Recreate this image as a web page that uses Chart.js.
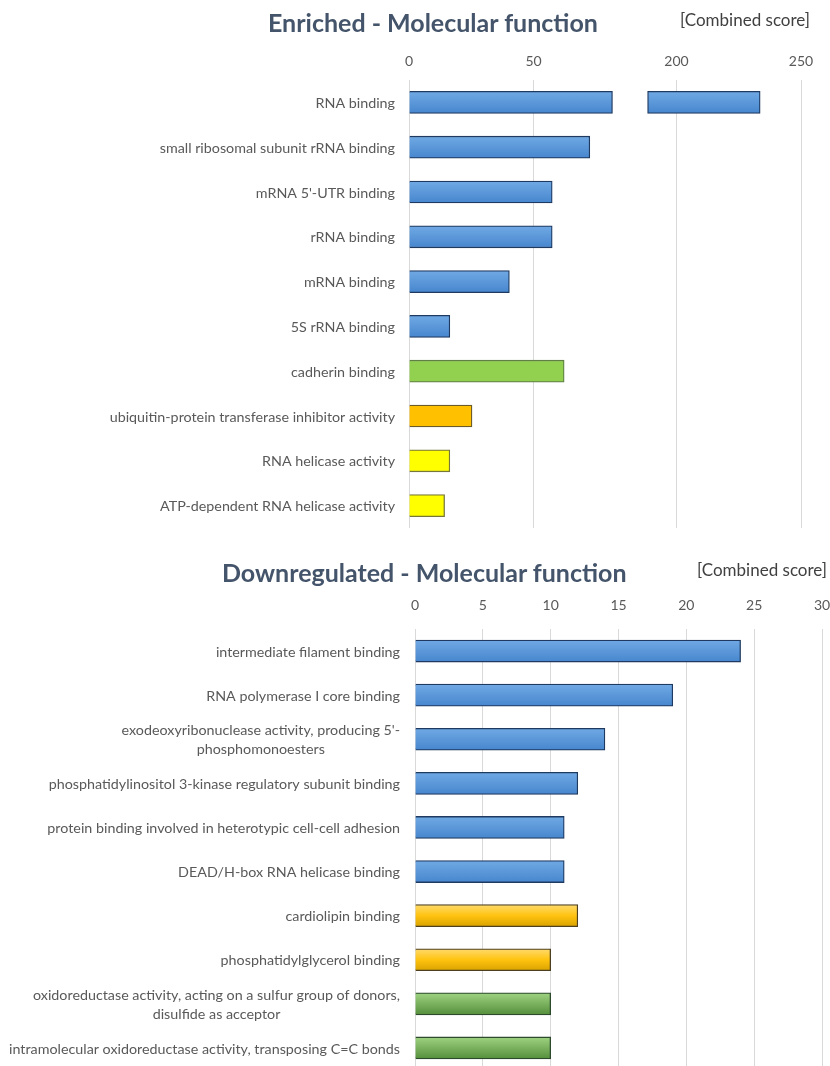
<!DOCTYPE html>
<html><head><meta charset="utf-8">
<script src="https://cdn.jsdelivr.net/npm/chart.js@4.4.1/dist/chart.umd.min.js"></script>
<style>
html,body{margin:0;padding:0;background:#fff;width:830px;height:1066px;overflow:hidden;font-family:Lato,"Open Sans",sans-serif;}
canvas{position:absolute;left:0;}
.t{position:absolute;white-space:nowrap;z-index:2;}
.title{font-weight:bold;font-size:25px;color:#44546A;line-height:28px;}
.unit{font-size:17px;color:#404040;line-height:20px;}
</style></head><body>
<canvas id="c1" width="830" height="535" style="top:0"></canvas>
<canvas id="c2" width="830" height="535" style="top:535px"></canvas>
<div class="t title" style="left:268px;top:8px">Enriched - Molecular function</div>
<div class="t unit" style="left:680px;top:10px">[Combined score]</div>
<div class="t title" style="left:222px;top:558px">Downregulated - Molecular function</div>
<div class="t unit" style="left:697px;top:560px">[Combined score]</div>
<script>
// ---------- data ----------
const enrichedLabels = ['RNA binding', 'small ribosomal subunit rRNA binding', "mRNA 5'-UTR binding", 'rRNA binding', 'mRNA binding', '5S rRNA binding', 'cadherin binding', 'ubiquitin-protein transferase inhibitor activity', 'RNA helicase activity', 'ATP-dependent RNA helicase activity'];
const enrichedValues = [233.6, 72.6, 57.5, 57.5, 40.3, 16.4, 62.3, 25.3, 16.4, 14.3];
const enrichedGroups = ['blue', 'blue', 'blue', 'blue', 'blue', 'blue', 'green', 'orange', 'yellow', 'yellow'];
const enrichedTicks = [0, 50, 200, 250];
// broken axis: bar cut at this value, resumes at this value, values past the break are shifted
const breakCut = 81.7;
const breakResume = 188.4;
const breakShift = 92.6;

const downLabels = ['intermediate filament binding', 'RNA polymerase I core binding', ["exodeoxyribonuclease activity, producing 5'-", 'phosphomonoesters'], 'phosphatidylinositol 3-kinase regulatory subunit binding', 'protein binding involved in heterotypic cell-cell adhesion', 'DEAD/H-box RNA helicase binding', 'cardiolipin binding', 'phosphatidylglycerol binding', ['oxidoreductase activity, acting on a sulfur group of donors,', 'disulfide as acceptor'], 'intramolecular oxidoreductase activity, transposing C=C bonds'];
const downValues = [24, 19, 14, 12, 11, 11, 12, 10, 10, 10];
const downGroups = ['blue', 'blue', 'blue', 'blue', 'blue', 'blue', 'orange', 'orange', 'green', 'green'];
const downTicks = [0, 5, 10, 15, 20, 25, 30];

// ---------- styles ----------
const topPalette = {
  blue:   {solid: '#5B9BD5', stops: [[0, '#70A9E4'], [1, '#4786CE']], border: '#1F3A60'},
  green:  {solid: '#92D050', border: '#5F7F45'},
  orange: {solid: '#FFC000', border: '#6B5A2A'},
  yellow: {solid: '#FFFF00', border: '#77773A'}
};
const downPalette = {
  blue:   {solid: '#5B9BD5', stops: [[0, '#70A9E4'], [1, '#4786CE']], border: '#1F3A60'},
  orange: {solid: '#FFC000', stops: [[0, '#FFDB6E'], [0.5, '#FFC30F'], [1, '#D9A200']], border: '#4D4020'},
  green:  {solid: '#70AD47', stops: [[0, '#9FD381'], [1, '#558F3C']], border: '#2C4A2C'}
};
const FONT = 'Lato, "Open Sans", sans-serif';

function toDisplay(v) { return v <= breakCut ? v : v - breakShift; }

// gradient fills applied per bar element just before drawing
const barGradients = {
  id: 'barGradients',
  beforeDatasetsDraw(chart, args, opts) {
    const ctx = chart.ctx;
    chart.data.datasets.forEach((ds, di) => {
      const meta = chart.getDatasetMeta(di);
      meta.data.forEach((el, i) => {
        const p = opts.palette[opts.groups[i]];
        if (!p || !p.stops || !el || !isFinite(el.y)) return;
        const h = el.height || 22;
        const g = ctx.createLinearGradient(0, el.y - h / 2, 0, el.y + h / 2);
        p.stops.forEach(s => g.addColorStop(s[0], s[1]));
        el.options = Object.assign({}, el.options, {backgroundColor: g});
      });
    });
  }
};

const catLabels = {
  id: 'catLabels',
  afterDraw(chart, args, opts) {
    const ctx = chart.ctx, ys = chart.scales.y;
    ctx.save();
    ctx.font = opts.font;
    ctx.fillStyle = opts.color;
    ctx.textBaseline = 'middle';
    ctx.textAlign = 'center';
    chart.data.labels.forEach((lab, i) => {
      const lines = Array.isArray(lab) ? lab : [lab];
      const w = Math.max(...lines.map(l => ctx.measureText(l).width));
      const cx = opts.right - w / 2;
      const yc = ys.getPixelForValue(i) + 1;
      lines.forEach((l, k) => ctx.fillText(l, cx, yc + (k - (lines.length - 1) / 2) * opts.lineHeight));
    });
    ctx.restore();
  }
};

function fitX(s) { s.height = 30; s.paddingLeft = 0; s.paddingRight = 0; }

// ---------- chart 1 (broken axis) ----------
const leftSeg = enrichedValues.map(v => [0, v > breakCut ? breakCut : v]);
const rightSeg = enrichedValues.map(v => v > breakCut ? [toDisplay(breakResume), toDisplay(v)] : null);
const topFill = enrichedGroups.map(g => topPalette[g].solid);
const topBorder = enrichedGroups.map(g => topPalette[g].border);

new Chart(document.getElementById('c1'), {
  type: 'bar',
  plugins: [barGradients, catLabels],
  data: {
    labels: enrichedLabels,
    datasets: [
      {data: leftSeg, backgroundColor: topFill, borderColor: topBorder, borderWidth: 1.3, barThickness: 22, grouped: false},
      {data: rightSeg, backgroundColor: topFill, borderColor: topBorder, borderWidth: 1.3, barThickness: 22, grouped: false, borderSkipped: false}
    ]
  },
  options: {
    indexAxis: 'y', responsive: false, animation: false, devicePixelRatio: 1,
    layout: {padding: {left: 0, right: 29, top: 50, bottom: 7}},
    plugins: {legend: {display: false}, tooltip: {enabled: false},
      barGradients: {palette: topPalette, groups: enrichedGroups},
      catLabels: {font: '14.3px ' + FONT, color: '#595959', right: 395, lineHeight: 19}},
    scales: {
      x: {
        position: 'top', min: 0, max: toDisplay(250),
        afterBuildTicks: s => { s.ticks = enrichedTicks.map(v => ({value: toDisplay(v)})); },
        ticks: {callback: (v, i) => String(enrichedTicks[i]), color: '#595959', font: {family: FONT, size: 14}, padding: 10, autoSkip: false, maxRotation: 0},
        grid: {color: '#D9D9D9', drawTicks: false},
        border: {display: false},
        afterFit: fitX
      },
      y: {
        ticks: {display: false}, grid: {display: false}, border: {display: false},
        afterFit: s => { s.width = 409; }
      }
    }
  }
});

// ---------- chart 2 ----------
new Chart(document.getElementById('c2'), {
  type: 'bar',
  plugins: [barGradients, catLabels],
  data: {
    labels: downLabels,
    datasets: [
      {data: downValues, backgroundColor: downGroups.map(g => downPalette[g].solid), borderColor: downGroups.map(g => downPalette[g].border), borderWidth: 1.3, barThickness: 22}
    ]
  },
  options: {
    indexAxis: 'y', responsive: false, animation: false, devicePixelRatio: 1,
    layout: {padding: {left: 0, right: 8, top: 64, bottom: 0}},
    plugins: {legend: {display: false}, tooltip: {enabled: false},
      barGradients: {palette: downPalette, groups: downGroups},
      catLabels: {font: '14.3px ' + FONT, color: '#595959', right: 400, lineHeight: 19}},
    scales: {
      x: {
        position: 'top', min: downTicks[0], max: downTicks[downTicks.length - 1],
        afterBuildTicks: s => { s.ticks = downTicks.map(v => ({value: v})); },
        ticks: {color: '#595959', font: {family: FONT, size: 14}, padding: 15, autoSkip: false, maxRotation: 0},
        grid: {color: '#D9D9D9', drawTicks: false},
        border: {display: false},
        afterFit: fitX
      },
      y: {
        ticks: {display: false}, grid: {display: false}, border: {display: false},
        afterFit: s => { s.width = 415; }
      }
    }
  }
});
</script>
</body></html>
